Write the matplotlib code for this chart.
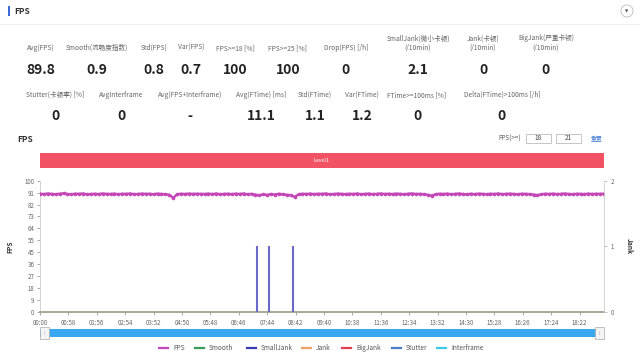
import numpy as np
import matplotlib
matplotlib.use("Agg")
import matplotlib.pyplot as plt
from matplotlib.patches import Rectangle, Ellipse
from matplotlib.lines import Line2D

plt.rcParams['font.family'] = ['Noto Sans CJK SC', 'DejaVu Sans']

# ---------------- data ----------------
stat_labels_row1 = ["Avg(FPS)", "Smooth(流畅度指数)", "Std(FPS)", "Var(FPS)", "FPS>=18 [%]",
                    "FPS>=25 [%]", "Drop(FPS) [/h]", "SmallJank(微小卡顿)\n(/10min)",
                    "Jank(卡顿)\n(/10min)", "BigJank(严重卡顿)\n(/10min)"]
stat_values_row1 = ["89.8", "0.9", "0.8", "0.7", "100", "100", "0", "2.1", "0", "0"]
stat_labels_row2 = ["Stutter(卡顿率) [%]", "AvgInterframe", "Avg(FPS+Interframe)", "Avg(FTime) [ms]",
                    "Std(FTime)", "Var(FTime)", "FTime>=100ms [%]", "Delta(FTime)>100ms [/h]"]
stat_values_row2 = ["0", "0", "-", "11.1", "1.1", "1.2", "0", "0"]

sample_interval_s = 8
fps_values = [
    90.1, 89.7, 90.2, 89.9, 89.6, 90.0, 90.3, 89.8, 89.5, 90.1,
    89.9, 90.2, 89.6, 89.8, 90.0, 89.7, 90.2, 89.9, 89.8, 90.1,
    89.6, 90.0, 89.9, 90.2, 89.7, 89.8, 90.1, 89.9, 90.0, 89.6,
    90.1, 89.8, 89.7, 89.2, 86.9, 89.5, 90.0, 89.8, 90.1, 89.9,
    90.0, 89.9, 89.8, 90.1, 89.7, 90.2, 89.6, 89.9, 90.0, 89.7,
    90.1, 89.8, 90.2, 89.6, 89.9, 89.3, 88.8, 89.6, 89.1, 89.8,
    89.4, 90.0, 89.5, 89.2, 88.9, 87.6, 89.5, 90.0, 89.8, 90.1,
    89.7, 90.0, 89.9, 90.2, 89.6, 89.8, 90.1, 89.9, 89.7, 90.0,
    89.8, 90.2, 89.6, 89.9, 90.1, 89.7, 89.9, 90.2, 89.8, 90.0,
    89.7, 90.1, 89.9, 89.6, 90.0, 90.2, 89.8, 89.9, 89.7, 89.2,
    88.6, 89.6, 90.0, 89.8, 90.1, 89.6, 89.9, 90.2, 89.8, 89.5,
    90.0, 89.7, 90.1, 89.9, 89.6, 90.0, 89.8, 90.2, 89.7, 89.9,
    90.1, 89.8, 89.6, 90.0, 89.9, 89.7, 89.4, 88.9, 89.6, 90.0,
    89.8, 90.1, 89.7, 89.9, 90.2, 89.8, 89.6, 90.0, 89.9, 89.7,
    90.1, 89.8, 90.0, 89.9, 90.1,
]
smalljank_times_s = [443, 468, 516]
smalljank_values = [1, 1, 1]

x_tick_labels = ["00:00", "00:58", "01:56", "02:54", "03:52", "04:50", "05:48", "06:46",
                 "07:44", "08:42", "09:40", "10:38", "11:36", "12:34", "13:32", "14:30",
                 "15:28", "16:26", "17:24", "18:22"]
x_tick_step_s = 58
fps_tick_labels = ["0", "9", "18", "27", "36", "45", "55", "64", "73", "82", "91", "100"]
jank_tick_labels = ["0", "1", "2"]

legend_names = ["FPS", "Smooth", "SmallJank", "Jank", "BigJank", "Stutter", "Interframe"]
legend_colors = ["#c447b8", "#3a9a55", "#3b3bb0", "#f0a060", "#e0404f", "#4a7fc8", "#3cc8e6"]

# ---------------- figure ----------------
W, H = 640, 355
fig = plt.figure(figsize=(W / 100, H / 100), dpi=100)
fig.patch.set_facecolor("white")

def fx(x):
    return x / W

def fy(y):
    return 1 - y / H

# header
fig.add_artist(Rectangle((fx(8), fy(16)), 1.6 / W, 10 / H, transform=fig.transFigure,
                         color="#3d6bd6", lw=0))
fig.text(fx(14), fy(11), "FPS", fontsize=6, fontweight="bold", color="#333333",
         ha="left", va="center")
fig.add_artist(Ellipse((fx(627), fy(11)), 12 / W, 12 / H, transform=fig.transFigure,
                       facecolor="white", edgecolor="#bbbbbb", lw=0.6))
fig.text(fx(627), fy(11.5), "▼", fontsize=3, color="#444444", ha="center", va="center",
         family="DejaVu Sans")
fig.add_artist(Line2D([0, 1], [fy(24), fy(24)], transform=fig.transFigure,
                      color="#f0f0f0", lw=0.8))

# stats row 1
row1_x = [41, 97, 154, 191, 235, 288, 346, 418, 483, 546]
for lab, val, x in zip(stat_labels_row1, stat_values_row1, row1_x):
    fig.text(fx(x), fy(52), lab, fontsize=4.8, color="#666666", ha="center", va="bottom",
             linespacing=1.25)
    fig.text(fx(x), fy(70), val, fontsize=10, fontweight="bold", color="#222222",
             ha="center", va="center")

# stats row 2
row2_x = [55, 121, 190, 261, 315, 362, 417, 502]
for lab, val, x in zip(stat_labels_row2, stat_values_row2, row2_x):
    fig.text(fx(x), fy(95), lab, fontsize=4.8, color="#666666", ha="center", va="center")
    fig.text(fx(x), fy(116), val, fontsize=10, fontweight="bold", color="#222222",
             ha="center", va="center")

# chart header
fig.text(fx(17), fy(140), "FPS", fontsize=6, fontweight="bold", color="#333333",
         ha="left", va="center")
fig.text(fx(510), fy(138.5), "FPS(>=)", fontsize=4.5, color="#555555", ha="center", va="center")
for (x0, x1), t in zip([(526, 551), (556, 581)], ["18", "21"]):
    fig.add_artist(Rectangle((fx(x0), fy(143)), (x1 - x0) / W, 9 / H, transform=fig.transFigure,
                             facecolor="white", edgecolor="#bbbbbb", lw=0.6))
    fig.text(fx((x0 + x1) / 2), fy(138.5), t, fontsize=4.8, color="#444444",
             ha="center", va="center")
fig.text(fx(597), fy(138.5), "重置", fontsize=4.2, color="#4a7fd8", ha="center", va="center")

# red level bar
fig.add_artist(Rectangle((fx(40), fy(168)), 564 / W, 15 / H, transform=fig.transFigure,
                         color="#f25364", lw=0))
fig.text(fx(321), fy(160.5), "Level1", fontsize=3.8, color="white", ha="center", va="center")

# main axes
ax = fig.add_axes([fx(40), fy(311.7), 564 / W, (311.7 - 180.7) / H])
ax.set_facecolor("white")
times = np.arange(len(fps_values)) * sample_interval_s
ax.plot(times, fps_values, color=legend_colors[0], lw=1.8, marker="o", ms=1.6, zorder=3)
ax.set_xlim(0, 1152)
ax.set_ylim(0, 100)
ax.set_yticks(np.linspace(0, 100, len(fps_tick_labels)))
ax.set_yticklabels(fps_tick_labels)
ax.set_xticks(np.arange(len(x_tick_labels)) * x_tick_step_s)
ax.set_xticklabels(x_tick_labels)
ax.tick_params(axis="both", labelsize=4.4, colors="#888888", length=2, width=0.5, pad=2)
ax.tick_params(axis="x", labelcolor="#666666", pad=3)
ax.tick_params(axis="y", labelcolor="#666666")
for s in ["top", "right"]:
    ax.spines[s].set_visible(False)
ax.spines["left"].set_color("#cccccc")
ax.spines["left"].set_linewidth(0.6)
ax.spines["bottom"].set_color("#9a9a88")
ax.spines["bottom"].set_linewidth(1.2)
ax.set_ylabel("FPS", fontsize=4.8, fontweight="bold", color="#333333", labelpad=8)

ax2 = ax.twinx()
ax2.set_ylim(0, 2)
ax2.vlines(smalljank_times_s, 0, smalljank_values, colors="#6a6ac8", lw=1.5, zorder=4)
ax2.set_yticks(np.arange(len(jank_tick_labels)))
ax2.set_yticklabels(jank_tick_labels)
ax2.tick_params(axis="y", labelsize=4.4, colors="#aaaaaa", labelcolor="#666666",
                length=2, width=0.5, pad=3)
for s in ["top", "left", "bottom"]:
    ax2.spines[s].set_visible(False)
ax2.spines["right"].set_color("#cccccc")
ax2.spines["right"].set_linewidth(0.6)
ax2.set_ylabel("Jank", fontsize=4.8, fontweight="bold", color="#333333", rotation=-90,
               labelpad=8, va="bottom")

# scrollbar
fig.add_artist(Rectangle((fx(40), fy(337)), 564 / W, 8 / H, transform=fig.transFigure,
                         color="#3aa8f0", lw=0))
for x0 in [40, 595]:
    fig.add_artist(Rectangle((fx(x0), fy(339)), 9 / W, 12 / H, transform=fig.transFigure,
                             facecolor="#f4f4f4", edgecolor="#aaaaaa", lw=0.5))
    fig.text(fx(x0 + 4.5), fy(333), "||", fontsize=3, color="#888888", ha="center", va="center")

# legend
leg_line_x = [159, 195, 247, 302, 342, 392, 437]
for name, col, x in zip(legend_names, legend_colors, leg_line_x):
    fig.add_artist(Line2D([fx(x), fx(x + 9)], [fy(347.5), fy(347.5)], transform=fig.transFigure,
                          color=col, lw=1.6))
    fig.text(fx(x + 14), fy(347.5), name, fontsize=4.7, color="#555555", ha="left", va="center")

fig.savefig("out.png", dpi=100, facecolor="white")
